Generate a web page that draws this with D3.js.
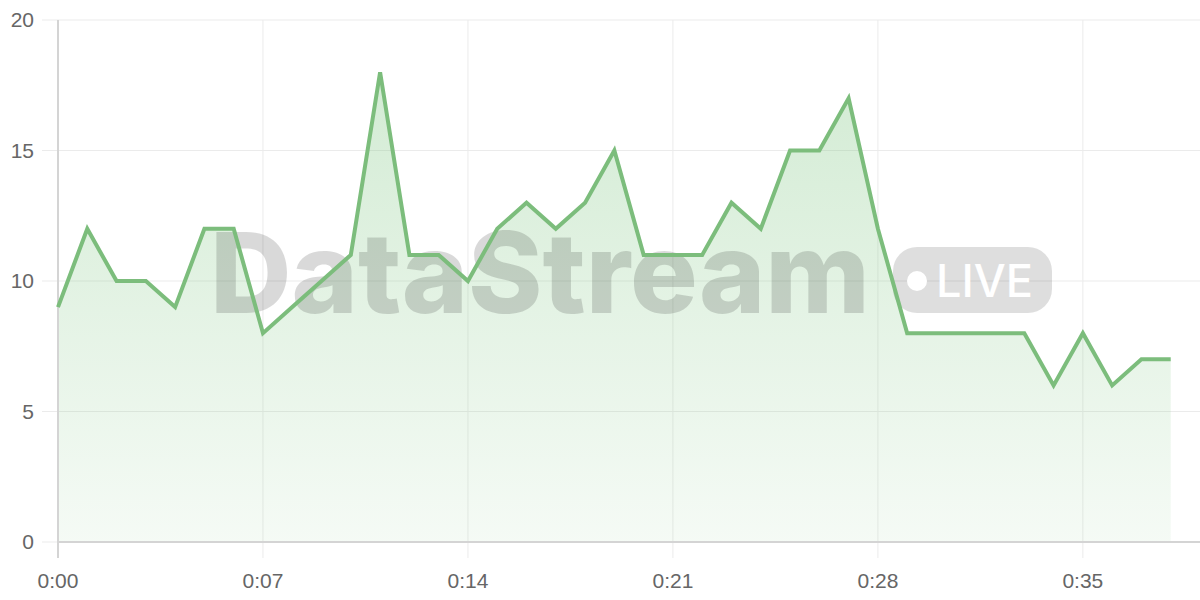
<!DOCTYPE html>
<html>
<head>
<meta charset="utf-8">
<script src="https://cdn.jsdelivr.net/npm/d3@7"></script>
<style>
  body { margin: 0; background: #fff; }
  svg { display: block; font-family: "Helvetica Neue", Helvetica, Arial, "Liberation Sans", sans-serif; }
</style>
</head>
<body>
<div id="chart"></div>
<script>
// seconds since start
var seconds = [0,1,2,3,4,5,6,7,8,9,10,11,12,13,14,15,16,17,18,19,20,21,22,23,24,25,26,27,28,29,30,31,32,33,34,35,36,37,38];
var values  = [9,12,10,10,9,12,12,8,9,10,11,18,11,11,10,12,13,12,13,15,11,11,11,13,12,15,15,17,12,8,8,8,8,8,6,8,6,7,7];
var xTicks = [0,7,14,21,28,35];
var yTicks = [0,5,10,15,20];
var watermark = "DataStream";
var badge = "LIVE";

var margin = {top: 20, right: 0, bottom: 58, left: 58},
    width = 1200 - margin.left - margin.right,
    height = 600 - margin.top - margin.bottom;

var svg = d3.select("#chart")
    .append("svg")
    .attr("width", 1200)
    .attr("height", 600)
    .append("g")
    .attr("transform", "translate(" + margin.left + "," + margin.top + ")");

var data = seconds.map(function(s, i) { return {t: s, v: values[i]}; });

var x = d3.scaleLinear().domain([0, 39]).range([0, width]);
var y = d3.scaleLinear().domain([0, 20]).range([height, 0]);

function fmt(s) {
    var m = Math.floor(s / 60), r = s % 60;
    return m + ":" + (r < 10 ? "0" : "") + r;
}

// gradient for the area
var defs = svg.append("defs");
var grad = defs.append("linearGradient")
    .attr("id", "areaFill")
    .attr("x1", 0).attr("y1", 0).attr("x2", 0).attr("y2", 1);
grad.append("stop").attr("offset", "0%").attr("stop-color", "#81c784").attr("stop-opacity", 0.35);
grad.append("stop").attr("offset", "100%").attr("stop-color", "#81c784").attr("stop-opacity", 0.08);

// horizontal grid
svg.append("g")
    .selectAll("line")
    .data(yTicks)
    .enter()
    .append("line")
    .attr("x1", -16)
    .attr("x2", width)
    .attr("y1", function(d) { return y(d); })
    .attr("y2", function(d) { return y(d); })
    .attr("stroke", "#ebebeb")
    .attr("stroke-width", 1);

// vertical grid
svg.append("g")
    .selectAll("line")
    .data(xTicks)
    .enter()
    .append("line")
    .attr("x1", function(d) { return x(d); })
    .attr("x2", function(d) { return x(d); })
    .attr("y1", 0)
    .attr("y2", height + 16)
    .attr("stroke", "#ebebeb")
    .attr("stroke-width", 1);

// area
var area = d3.area()
    .x(function(d) { return x(d.t); })
    .y0(y(0))
    .y1(function(d) { return y(d.v); });
svg.append("path")
    .datum(data)
    .attr("d", area)
    .attr("fill", "url(#areaFill)");

// axes lines
svg.append("line")
    .attr("x1", 0).attr("x2", 0)
    .attr("y1", 0).attr("y2", height + 16)
    .attr("stroke", "#d4d4d4").attr("stroke-width", 2);
svg.append("line")
    .attr("x1", 0).attr("x2", width)
    .attr("y1", height).attr("y2", height)
    .attr("stroke", "#d4d4d4").attr("stroke-width", 2);

// tick labels
svg.append("g")
    .selectAll("text")
    .data(yTicks)
    .enter()
    .append("text")
    .attr("x", -24)
    .attr("y", function(d) { return y(d); })
    .attr("dy", "0.35em")
    .attr("text-anchor", "end")
    .style("font-size", "21px")
    .style("fill", "#666")
    .text(function(d) { return d; });

svg.append("g")
    .selectAll("text")
    .data(xTicks)
    .enter()
    .append("text")
    .attr("x", function(d) { return x(d); })
    .attr("y", height + 46)
    .attr("text-anchor", "middle")
    .style("font-size", "21px")
    .style("fill", "#666")
    .text(function(d) { return fmt(d); });

// watermark
var wm = svg.append("g").attr("transform", "translate(" + (-58) + "," + (-20) + ")");
wm.append("text")
    .attr("x", 210)
    .attr("y", 313)
    .attr("textLength", 660)
    .attr("lengthAdjust", "spacingAndGlyphs")
    .style("font-family", "Inter, 'Liberation Sans', sans-serif")
    .style("font-size", "112px")
    .style("font-weight", 800)
    .style("fill", "#000")
    .style("fill-opacity", 0.15)
    .text(watermark);
wm.append("rect")
    .attr("x", 893).attr("y", 247)
    .attr("width", 159).attr("height", 66)
    .attr("rx", 24)
    .attr("fill", "#000")
    .attr("fill-opacity", 0.13);
wm.append("circle")
    .attr("cx", 917).attr("cy", 281)
    .attr("r", 10)
    .attr("fill", "#fff");
wm.append("text")
    .attr("x", 936)
    .attr("y", 297)
    .attr("textLength", 97)
    .attr("lengthAdjust", "spacingAndGlyphs")
    .style("font-family", "Inter, 'Liberation Sans', sans-serif")
    .style("font-size", "45px")
    .style("font-weight", 500)
    .style("fill", "#fff")
    .text(badge);

// line
var line = d3.line()
    .x(function(d) { return x(d.t); })
    .y(function(d) { return y(d.v); });
svg.append("path")
    .datum(data)
    .attr("d", line)
    .attr("fill", "none")
    .attr("stroke", "#7cbd7c")
    .attr("stroke-width", 4)
    .attr("stroke-linejoin", "miter");
</script>
</body>
</html>
